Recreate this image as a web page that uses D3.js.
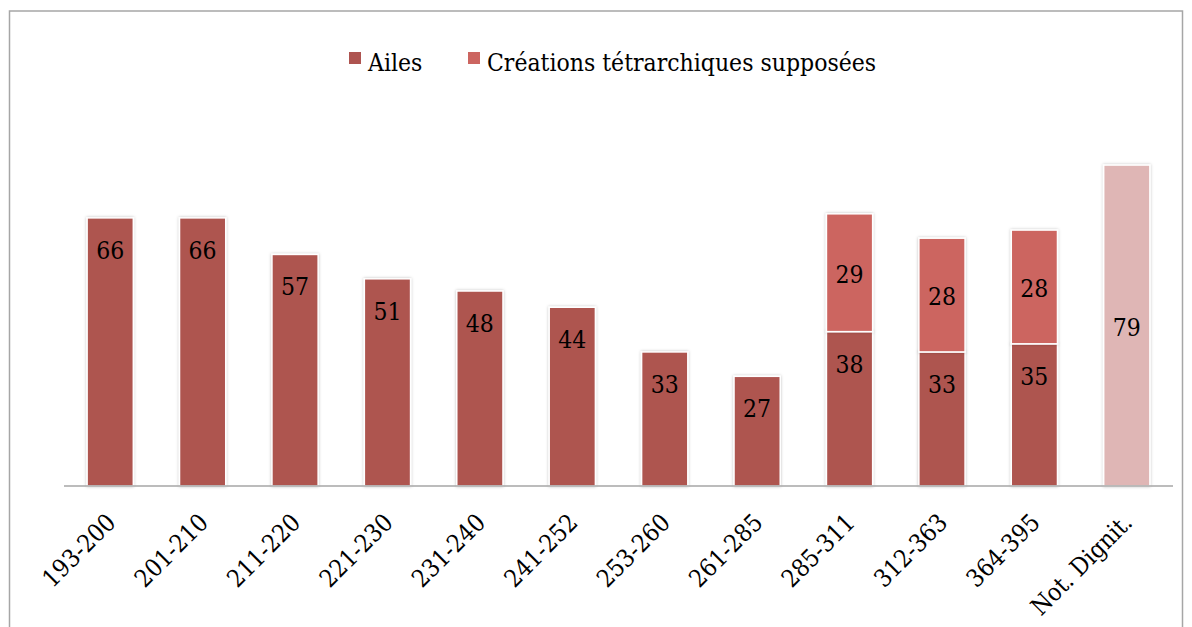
<!DOCTYPE html>
<html><head><meta charset="utf-8">
<script src="https://cdn.jsdelivr.net/npm/d3@7"></script>
<style>body{margin:0;background:#fff}</style>
</head><body>
<svg id="c" width="1192" height="627"></svg>
<script>
const categories = ["193-200","201-210","211-220","221-230","231-240","241-252","253-260","261-285","285-311","312-363","364-395","Not. Dignit."];
const ailes =      [66,66,57,51,48,44,33,27,38,33,35,0];
const creations =  [0,0,0,0,0,0,0,0,29,28,28,0];
const notDignit =  [0,0,0,0,0,0,0,0,0,0,0,79];
const seriesNames = ["Ailes","Créations tétrarchiques supposées"];

const FONT = "'DejaVu Serif Condensed', 'DejaVu Serif', serif";
const FS = 24.5;
const svg = d3.select("#c");
const defs = svg.append("defs");
const f = defs.append("filter").attr("id","sh").attr("x","-20%").attr("y","-5%").attr("width","140%").attr("height","110%");
f.append("feDropShadow").attr("dx",0).attr("dy",0).attr("stdDeviation",1.6).attr("flood-color","#000").attr("flood-opacity",0.25);

svg.append("rect").attr("x",9.5).attr("y",11).attr("width",1173).attr("height",640)
  .attr("fill","none").attr("stroke","#a6a6a6").attr("stroke-width",1.5);

const x = d3.scaleBand().domain(categories).range([64,1173]).paddingInner(0.5).paddingOuter(0.25);
const y = d3.scaleLinear().domain([0,80]).range([486,161]);

const g = svg.append("g");
const colA = "#ae5450", colC = "#cc6560", colN = "#dfb6b5";

function seg(cat, v0, v1, col){
  g.append("rect").attr("x",x(cat)).attr("y",y(v1)).attr("width",x.bandwidth()).attr("height",y(v0)-y(v1))
   .attr("fill",col).attr("stroke","#fff").attr("stroke-width",1.5).attr("filter","url(#sh)");
}
categories.forEach((c,i)=>{
  if (ailes[i]>0) seg(c,0,ailes[i],colA);
  if (creations[i]>0) seg(c,ailes[i],ailes[i]+creations[i],colC);
  if (notDignit[i]>0) seg(c,0,notDignit[i],colN);
});
// labels
const lbl = g.append("g").attr("font-family",FONT).attr("font-stretch","condensed").attr("font-size",FS).attr("fill","#000").attr("text-anchor","middle");
categories.forEach((c,i)=>{
  const cx = x(c)+x.bandwidth()/2;
  if (ailes[i]>0) lbl.append("text").attr("x",cx).attr("y",y(ailes[i])+41).text(ailes[i]);
  if (creations[i]>0) lbl.append("text").attr("x",cx).attr("y",(y(ailes[i])+y(ailes[i]+creations[i]))/2+10).text(creations[i]);
  if (notDignit[i]>0) lbl.append("text").attr("x",cx).attr("y",y(notDignit[i]/2)+10).text(notDignit[i]);
});

// axis
const ax = svg.append("g").attr("transform","translate(0,486)").call(d3.axisBottom(x).tickSize(0).tickPadding(0));
ax.select(".domain").attr("stroke","#a6a6a6").attr("stroke-width",1.5).attr("d","M64,0H1173");
ax.selectAll(".tick text").attr("font-family",FONT).attr("font-stretch","condensed").attr("font-size",FS).attr("fill","#000")
  .attr("text-anchor","end").attr("dy",0).attr("y",0)
  .attr("transform","translate(7,38) rotate(-45)");

// legend
const leg = svg.append("g").attr("font-family",FONT).attr("font-stretch","condensed").attr("font-size",FS);
const lx = [349, 468];
[colA,colC].forEach((col,i)=>{
  leg.append("rect").attr("x",lx[i]).attr("y",52).attr("width",12).attr("height",12).attr("fill",col);
  leg.append("text").attr("x",lx[i]+19).attr("y",71).text(seriesNames[i]);
});
</script>
</body></html>
